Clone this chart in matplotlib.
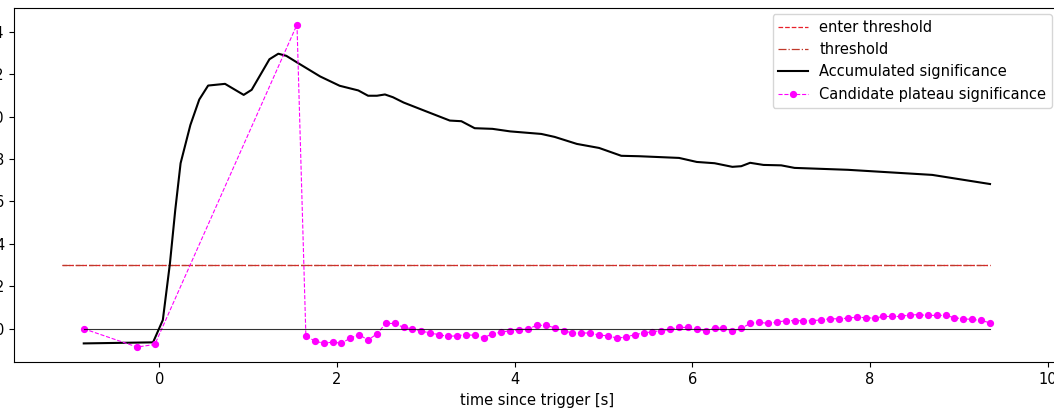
import matplotlib
matplotlib.use("Agg")
import matplotlib.pyplot as plt

# ---- data ----
acc_t = [-0.85, -0.07, 0.04, 0.12, 0.18, 0.24, 0.35, 0.45, 0.55, 0.74, 0.95, 1.04,
         1.24, 1.34, 1.43, 1.55, 1.81, 2.03, 2.24, 2.35, 2.45, 2.54, 2.63, 2.75,
         3.0, 3.27, 3.4, 3.55, 3.75, 3.95, 4.3, 4.45, 4.7, 4.95, 5.2, 5.4, 5.85,
         6.05, 6.25, 6.45, 6.55, 6.65, 6.8, 7.0, 7.15, 7.75, 8.7, 9.35]
acc_sig = [-0.69, -0.64, 0.41, 3.08, 5.6, 7.8, 9.6, 10.8, 11.46, 11.54, 11.02, 11.26,
           12.7, 12.96, 12.86, 12.55, 11.89, 11.45, 11.23, 10.98, 10.98, 11.04, 10.91, 10.66,
           10.25, 9.81, 9.78, 9.45, 9.42, 9.3, 9.18, 9.04, 8.71, 8.52, 8.15, 8.13, 8.05,
           7.86, 7.8, 7.63, 7.66, 7.82, 7.72, 7.7, 7.58, 7.49, 7.25, 6.82]

cand_t = [-0.85, -0.25, -0.05, 1.55,
          1.65, 1.75, 1.85, 1.95, 2.05, 2.15, 2.25, 2.35, 2.45, 2.55,
          2.65, 2.75, 2.85, 2.95, 3.05, 3.15, 3.25, 3.35, 3.45, 3.55,
          3.65, 3.75, 3.85, 3.95, 4.05, 4.15, 4.25, 4.35, 4.45, 4.55,
          4.65, 4.75, 4.85, 4.95, 5.05, 5.15, 5.25, 5.35, 5.45, 5.55,
          5.65, 5.75, 5.85, 5.95, 6.05, 6.15, 6.25, 6.35, 6.45, 6.55,
          6.65, 6.75, 6.85, 6.95, 7.05, 7.15, 7.25, 7.35, 7.45, 7.55,
          7.65, 7.75, 7.85, 7.95, 8.05, 8.15, 8.25, 8.35, 8.45, 8.55,
          8.65, 8.75, 8.85, 8.95, 9.05, 9.15, 9.25, 9.35]
cand_sig = [0.0, -0.86, -0.74, 14.33,
            -0.33, -0.58, -0.68, -0.63, -0.68, -0.44, -0.28, -0.53, -0.24, 0.25,
            0.25, 0.06, 0.0, -0.11, -0.2, -0.28, -0.36, -0.33, -0.28, -0.31,
            -0.42, -0.24, -0.16, -0.09, -0.05, 0.0, 0.16, 0.16, 0.05, -0.09,
            -0.2, -0.2, -0.2, -0.3, -0.33, -0.44, -0.39, -0.28, -0.2, -0.14,
            -0.09, -0.03, 0.07, 0.06, -0.03, -0.09, 0.03, 0.03, -0.11, 0.02,
            0.25, 0.31, 0.25, 0.31, 0.38, 0.38, 0.38, 0.38, 0.42, 0.47,
            0.47, 0.5, 0.55, 0.52, 0.5, 0.58, 0.58, 0.58, 0.66, 0.66,
            0.63, 0.63, 0.63, 0.52, 0.47, 0.44, 0.39, 0.28]

thr_t = [-1.1, 9.35]
enter_thr = [3.0, 3.0]
thr = [3.0, 3.0]
zero_t = [-0.85, 9.35]
zero_sig = [0.0, 0.0]

x_ticks = [0, 2, 4, 6, 8, 10]
y_ticks = [0, 2, 4, 6, 8, 10, 12, 14]

# ---- figure ----
plt.rcParams['font.size'] = 10.5
fig = plt.figure(figsize=(10.54, 4.09), dpi=100)
ax = fig.add_axes([14 / 1054, 1 - 362.3 / 409, (1061.1 - 14) / 1054, (362.3 - 8.3) / 409])

ax.plot(thr_t, enter_thr, color='#e8202a', linestyle='--', linewidth=0.9,
        label='enter threshold')
ax.plot(thr_t, thr, color='#c0392b', linestyle='-.', linewidth=0.9, label='threshold')
ax.plot(acc_t, acc_sig, color='black', linewidth=1.5, label='Accumulated significance')
ax.plot(cand_t, cand_sig, color='magenta', linestyle='--', linewidth=0.8,
        marker='o', markersize=4.2, label='Candidate plateau significance')
ax.plot(zero_t, zero_sig, color='black', linewidth=0.8, alpha=0.8)

ax.set_xlim(-1.635, 10.15)
ax.set_ylim(-1.58, 15.1)
ax.set_xticks(x_ticks)
ax.set_yticks(y_ticks)
ax.set_xlabel('time since trigger [s]')

ax.legend(loc='upper right', bbox_to_anchor=(1052 / 1054, 1 - 14 / 409),
          bbox_transform=fig.transFigure, borderaxespad=0)

fig.savefig('out.png', dpi=100)
